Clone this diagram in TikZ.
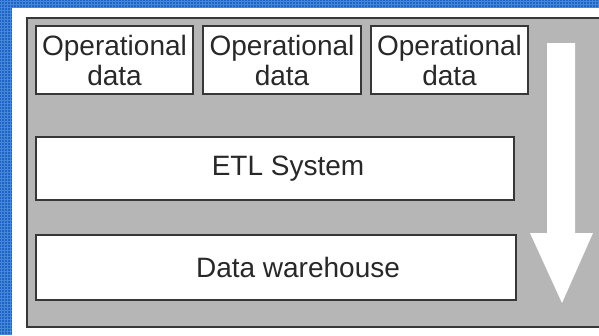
\documentclass[tikz,border=0pt]{standalone}
\usepackage{fontspec}
\setmainfont{Liberation Sans}
\definecolor{bluebg}{RGB}{28,100,200}
\definecolor{bluegrid}{RGB}{70,135,215}
\definecolor{panel}{RGB}{182,182,182}
\definecolor{edge}{RGB}{55,55,55}
\definecolor{txt}{RGB}{40,40,40}
\begin{document}
\begin{tikzpicture}[x=1pt,y=-1pt,
  box/.style={draw=edge,line width=1.6pt,fill=white,text=txt,inner sep=0pt,
    font=\fontsize{28}{30}\selectfont,align=center},
]
\useasboundingbox (0,0) rectangle (599,335);
% blue frame
\fill[bluebg] (0,0) rectangle (599,335);
\begin{scope}
\clip (0,0) rectangle (599,335);
\foreach \i in {1.5,4.5,...,600}{\draw[bluegrid,line width=0.6pt] (\i,0) -- (\i,335);}
\foreach \j in {1.5,4.5,...,336}{\draw[bluegrid,line width=0.6pt] (0,\j) -- (599,\j);}
\end{scope}
\fill[white] (12,8) rectangle (599,335);
% grey panel
\draw[edge,line width=2pt,fill=panel] (27,18) rectangle (602,327);
% boxes
\node[box,minimum width=157pt,minimum height=68pt] (op1) at (114.5,60) {Operational\\data};
\node[box,minimum width=158pt,minimum height=68pt] (op2) at (282,60) {Operational\\data};
\node[box,minimum width=157pt,minimum height=68pt] (op3) at (449.5,60) {Operational\\data};
\node[box,minimum width=478pt,minimum height=63pt] (etl) at (275,168.5) {\hspace*{26pt}ETL System};
\node[box,minimum width=480pt,minimum height=65pt] (dw) at (276,267.5) {\hspace*{44pt}Data warehouse};
% flow arrow
\fill[white] (547,43) -- (575,43) -- (575,233) -- (593,233) -- (562,303) -- (530,233) -- (547,233) -- cycle;
\end{tikzpicture}
\end{document}
